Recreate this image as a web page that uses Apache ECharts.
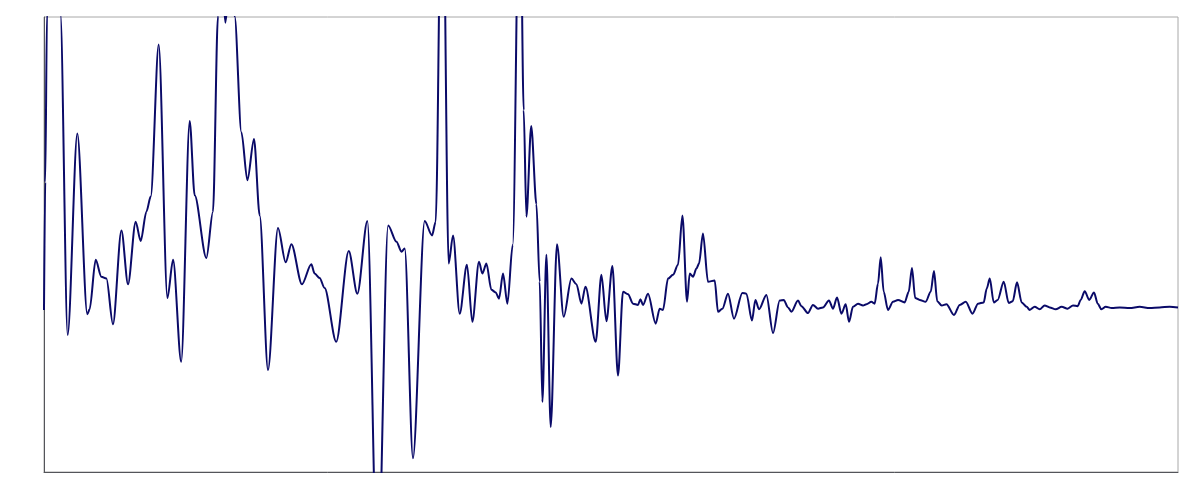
<!DOCTYPE html>
<html><head><meta charset="utf-8">
<script src="https://cdn.jsdelivr.net/npm/echarts@6/dist/echarts.min.js"></script>
<style>html,body{margin:0;padding:0;background:#fff}#c{width:1200px;height:496px}</style>
</head><body><div id="c"></div><script>
const blueData = [[20,-0.4],[20.15,20],[20.37,47],[20.83,75],[21.47,75],[22.1,47],[23.1,-4.4],[24.5,27.8],[26.04,-1.1],[26.4,-0.3],[27.4,7.6],[28.36,4.9],[29.25,4.6],[30.44,-2.7],[32.05,12.3],[33.37,3.7],[34.96,13.7],[36.04,10.6],[37.32,15.3],[38.31,17.7],[40.22,42],[42.42,1.5],[43.9,7.6],[46.13,-8.7],[48.58,29.8],[50.08,17.9],[53.77,7.9],[55.98,15.3],[57.71,46.5],[58.85,55],[60.37,45.5],[61.98,52],[63.89,46.5],[66.56,28],[69.04,20.3],[71.88,26.9],[74.41,14.7],[78.28,-10],[83.18,12.7],[87.18,7.2],[90.26,10.1],[96.25,3.7],[101.9,6.9],[104,5.4],[107.2,4.7],[110.5,3.1],[118.6,-5.5],[128,9],[134.9,2.2],[143.4,13.8],[152.6,-45],[162.7,13.1],[171.2,10.5],[176.5,8.9],[180,9.4],[189.3,-24.1],[203.3,13.8],[212.6,11.5],[217.4,13.7],[226.2,80],[235.3,7],[241.6,11.5],[251.6,-1],[263,6.8],[271.8,-2.3],[283,7.3],[288.9,5.4],[296.1,7],[305.2,2.8],[313.3,2.4],[319.7,1.4],[327.6,5.4],[336.5,0.6],[347.5,10],[362.8,75],[371.6,31.5],[377.8,14.5],[389,29],[401.5,16.5],[409.6,4.1],[416.4,-15.1],[426.7,8.4],[438,-19.1],[455.1,10.1],[474.2,-1.5],[497,4.6],[512.4,3.7],[528.2,0.6],[541.3,3.3],[576.2,-5.5],[596.6,5.2],[615,-2.2],[637.9,6.6],[660,-10.9],[680.4,2.5],[701.5,2.1],[723.3,0.6],[745.6,0.4],[756.6,1.3],[768.8,0.4],[792.4,2.2],[830.4,-2.6],[850.8,-0.2],[868.2,-0.4],[895,4.6],[922.6,5.2],[951.2,6.8],[977.2,14.7],[1005,0.9],[1021.6,5.4],[1042.4,4.9],[1064,6.2],[1081,7],[1107.6,11.8],[1141.8,4.1],[1189.4,4.3],[1213.6,-0.7],[1246.4,-0.2],[1289.8,2.2],[1337.8,-1.8],[1408,2.3],[1442.8,2.2],[1492.8,-2.1],[1524.2,1.2],[1557.8,-0.3],[1629.8,2],[1696.8,-4.1],[1767.4,1.1],[1811,1.2],[1859.2,0],[1897.8,-0.7],[1975.8,1.1],[2017,0.2],[2100,-0.9],[2164,0.4],[2232,-0.2],[2300,0],[2386,1.1],[2446,-0.2],[2506,1.6],[2574,-1],[2642,0.5],[2696,-2.3],[2762,0.1],[2848,0.6],[2936,0.3],[2998,0.5],[3090,0.9],[3152,0.6],[3216,3.8],[3270,8],[3330,2.5],[3418,-0.4],[3524,0.9],[3634,1.2],[3784,0.8],[3878,2.5],[3956,6.3],[4034,1.5],[4146,1.2],[4300,0.9],[4434,2.5],[4524,5.8],[4614,1.0],[4742,0.3],[4880,0.5],[5110,-1.2],[5292,0.4],[5490,0.9],[5718,-1.0],[5916,0.6],[6124,0.8],[6238,3],[6354,4.6],[6510,0.8],[6668,1.2],[6918,4.1],[7132,0.7],[7308,1.0],[7502,4.0],[7718,0.8],[7956,0.1],[8104,-0.4],[8354,0.1],[8612,-0.3],[8878,0.3],[9154,0],[9494,-0.3],[9846,0.1],[10214,-0.2],[10550,0.3],[10858,0.2],[11056,1.2],[11330,2.6],[11644,1.2],[11990,2.4],[12264,0.6],[12544,-0.3],[12878,0.1],[13356,-0.1],[14024,0],[14900,-0.1],[15836,0.1],[16832,-0.1],[17888,0],[19012,0.1],[20000,0]];
const L = Math.log10;
const chart = echarts.init(document.getElementById('c'), null, {renderer:'canvas'});
chart.setOption({
  animation:false, backgroundColor:'#fff',
  grid:{left:44, right:22, top:17, bottom:24, show:true, borderColor:'#a8a8a8', borderWidth:1, outerBoundsMode:'none'},
  xAxis:{type:'value', min:L(20), max:L(20000), axisTick:{show:false}, splitLine:{show:false}, axisLabel:{show:false}, axisLine:{onZero:false}},
  yAxis:{type:'value', min:-26.3, max:46.4, axisTick:{show:false}, splitLine:{show:false}, axisLabel:{show:false}},
  series:[
    {type:'line', data: blueData.map(d=>[L(d[0]), d[1]]), showSymbol:false, smooth:0.3, smoothMonotone:'x', clip:true, lineStyle:{color:'#0a0a68', width:2}}
  ]
});
</script></body></html>
